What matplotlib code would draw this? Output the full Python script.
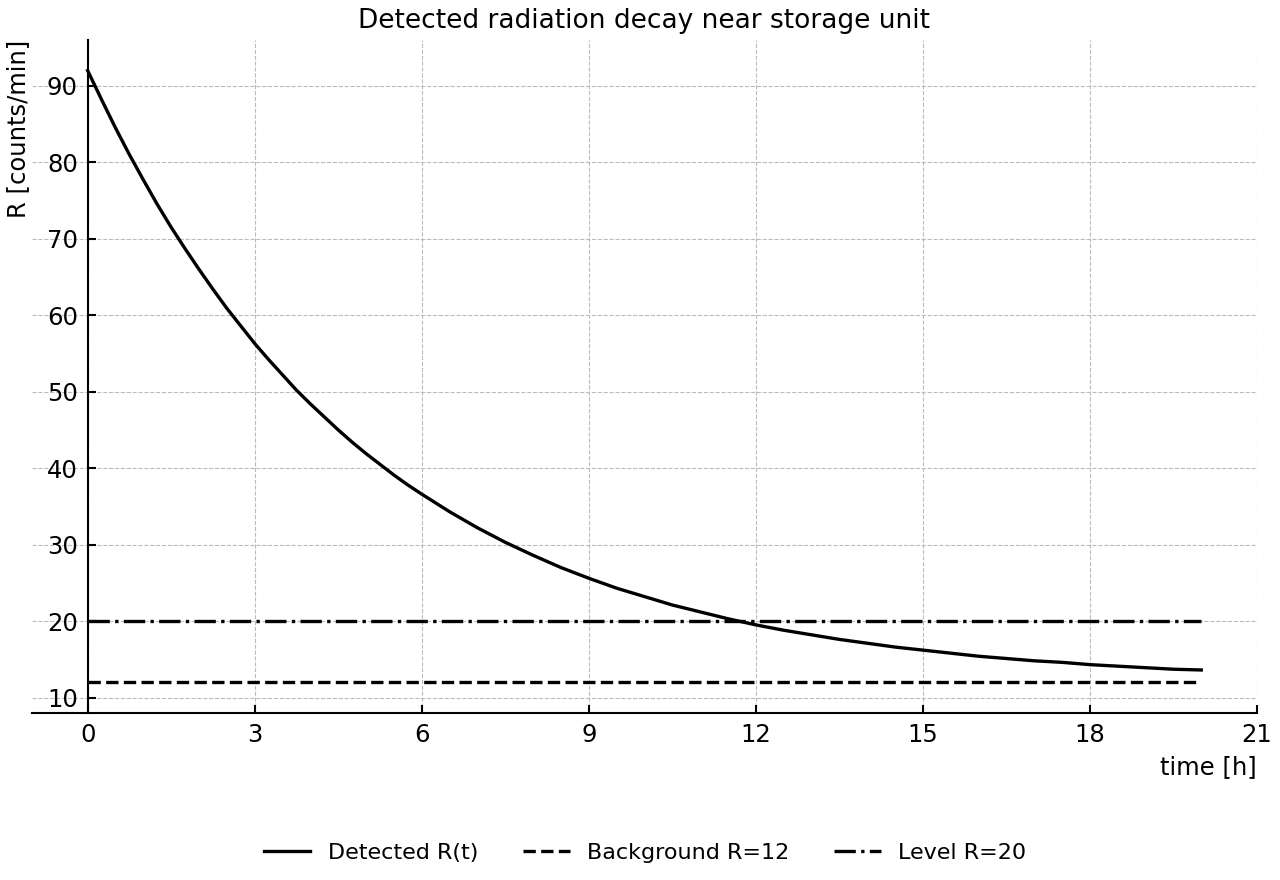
import numpy as np
import matplotlib.pyplot as plt

# values (counts/min vs hours)
t_hours = [0, 0.25, 0.5, 0.75, 1, 1.25, 1.5, 1.75, 2, 2.25, 2.5, 2.75, 3,
           3.25, 3.5, 3.75, 4, 4.25, 4.5, 4.75, 5, 5.25, 5.5, 5.75, 6, 6.5,
           7, 7.5, 8, 8.5, 9, 9.5, 10, 10.5, 11, 11.5, 12, 12.5, 13, 13.5,
           14, 14.5, 15, 15.5, 16, 16.5, 17, 17.5, 18, 18.5, 19, 19.5, 20]
detected = [92.0, 88.2, 84.5, 81.0, 77.7, 74.5, 71.5, 68.7, 66.0, 63.4, 60.9,
            58.6, 56.3, 54.2, 52.2, 50.2, 48.4, 46.7, 45.0, 43.4, 41.9, 40.5,
            39.1, 37.8, 36.6, 34.3, 32.2, 30.3, 28.6, 27.0, 25.6, 24.3, 23.2,
            22.1, 21.2, 20.3, 19.5, 18.8, 18.2, 17.6, 17.1, 16.6, 16.2, 15.8,
            15.4, 15.1, 14.8, 14.6, 14.3, 14.1, 13.9, 13.7, 13.6]
background = 12
level = 20

x_ticks = [0, 3, 6, 9, 12, 15, 18, 21]
y_ticks = [10, 20, 30, 40, 50, 60, 70, 80, 90]

fig = plt.figure(figsize=(12.8, 8.8), dpi=100)
ax = fig.add_axes([0.025, 0.19, 0.957, 0.7645])

t = np.array(t_hours)
ax.plot(t, detected, color="black", lw=2.4, label="Detected R(t)")
ax.plot(t, np.full_like(t, background), color="black", lw=2.4, ls="--",
        label="Background R=12")
ax.plot(t, np.full_like(t, level), color="black", lw=2.4, ls="-.",
        label="Level R=20")

ax.set_xlim(-1, 21)
ax.set_ylim(8, 96)
ax.set_xticks(x_ticks)
ax.set_yticks(y_ticks)

ax.spines["left"].set_position(("data", 0))
ax.spines["top"].set_visible(False)
ax.spines["right"].set_visible(False)
for s in ("left", "bottom"):
    ax.spines[s].set_linewidth(1.5)
ax.tick_params(direction="in", length=6, width=1.5, labelsize=17.5, pad=7)

ax.grid(True, ls="--", lw=0.8, color="#bbbbbb")
ax.set_axisbelow(True)

ax.set_title("Detected radiation decay near storage unit", fontsize=19,
             y=1.0, pad=9)
ax.set_xlabel("time [h]", fontsize=17.5, loc="right", labelpad=6)
ax.set_ylabel("R [counts/min]", fontsize=17.5, loc="top", labelpad=12)

fig.legend(loc="center", bbox_to_anchor=(0.504, 0.031), ncol=3,
           frameon=False, fontsize=16, handlelength=2.1, columnspacing=2.0)

fig.savefig("out.png", dpi=100)
